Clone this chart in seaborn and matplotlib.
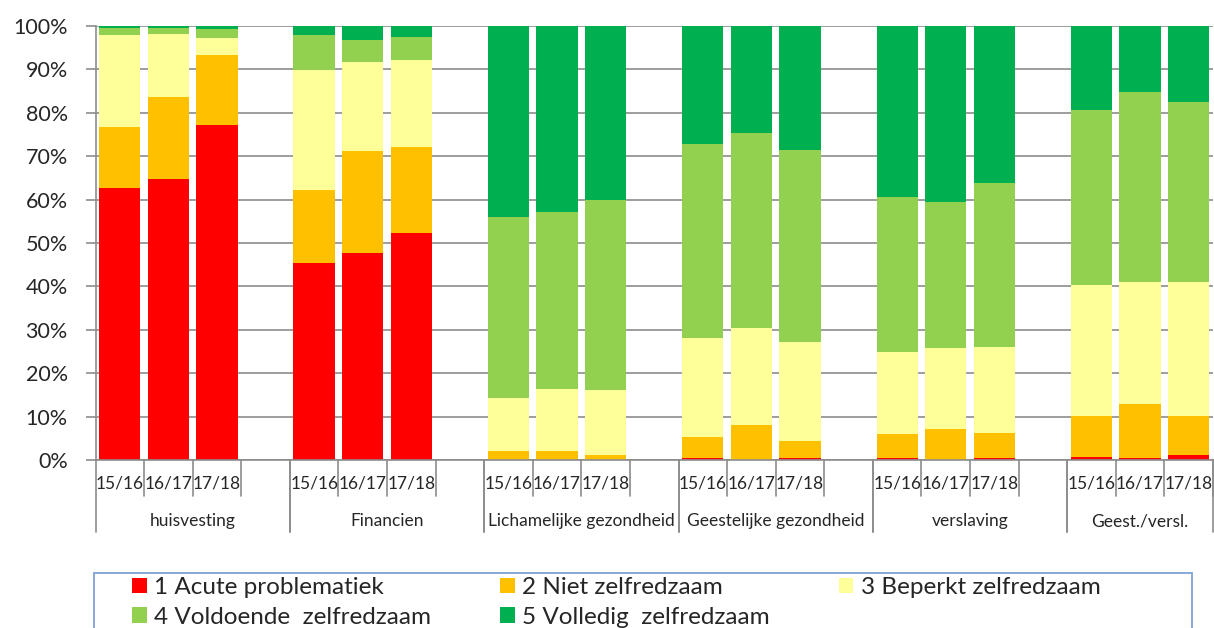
import numpy as np
import pandas as pd
import matplotlib
matplotlib.use("Agg")
import matplotlib.pyplot as plt
import seaborn as sns
from matplotlib.patches import Patch, Rectangle
from matplotlib.ticker import PercentFormatter

# -----------------------------
# DATA (percent of clients per level)
# -----------------------------
groups = ["huisvesting", "Financien", "Lichamelijke gezondheid",
          "Geestelijke gezondheid", "verslaving", "Geest./versl."]
years = ["15/16", "16/17", "17/18"]
levels = ["1 Acute problematiek", "2 Niet zelfredzaam", "3 Beperkt zelfredzaam",
          "4 Voldoende  zelfredzaam", "5 Volledig  zelfredzaam"]
colors = ["#FF0000", "#FFC000", "#FFFF99", "#92D050", "#00B050"]

acute = [62.7, 64.8, 77.2, 45.3, 47.8, 52.2, 0.0, 0.0, 0.0,
         0.4, 0.1, 0.4, 0.4, 0.1, 0.4, 0.8, 0.5, 1.1]
niet = [14.0, 18.8, 16.1, 17.0, 23.4, 19.9, 2.0, 2.1, 1.2,
        4.8, 8.0, 4.0, 5.6, 7.1, 5.9, 9.4, 12.5, 9.1]
beperkt = [21.3, 14.6, 4.0, 27.5, 20.6, 20.0, 12.4, 14.3, 15.0,
           23.0, 22.3, 22.7, 19.0, 18.6, 19.8, 30.2, 28.1, 30.9]
voldoende = [1.6, 1.3, 2.0, 8.2, 5.0, 5.3, 41.7, 40.7, 43.6,
             44.7, 44.9, 44.3, 35.5, 33.7, 37.7, 40.3, 43.6, 41.4]
volledig = [0.4, 0.5, 0.7, 2.0, 3.2, 2.6, 43.9, 42.9, 40.2,
            27.1, 24.7, 28.6, 39.5, 40.5, 36.2, 19.3, 15.3, 17.5]

# -----------------------------
# BUILD TABLE
# -----------------------------
rows = []
for gi, g in enumerate(groups):
    for yi, y in enumerate(years):
        rows.append({"group": g, "year": y, "slot": gi * 4 + yi})
df = pd.DataFrame(rows)
series = [acute, niet, beperkt, voldoende, volledig]
for name, vals in zip(levels, series):
    df[name] = vals
cum = df[levels].cumsum(axis=1)

# -----------------------------
# STYLE
# -----------------------------
sns.set_theme(style="white")
plt.rcParams["font.family"] = ["Lato", "DejaVu Sans"]
grey = "#8C8C8C"

fig = plt.figure(figsize=(12.14, 6.28), dpi=100)
ax = fig.add_axes([95.5 / 1214, 1 - 460 / 628, (1213 - 95.5) / 1214, 434 / 628])

# stacked bars: draw cumulative totals from top level down
for i in range(len(levels) - 1, -1, -1):
    sns.barplot(x=df["slot"], y=cum[levels[i]], color=colors[i], width=0.85,
                native_scale=True, saturation=1, linewidth=0, ax=ax, zorder=2)

ax.set_xlim(-0.5, 22.5)
ax.set_ylim(0, 100)
ax.set_yticks(np.arange(0, 101, 10))
ax.yaxis.set_major_formatter(PercentFormatter(decimals=0))
ax.set_axisbelow(True)
ax.yaxis.grid(True, color=grey, lw=1.2)
ax.tick_params(axis="y", length=7, width=1.2, color=grey, pad=13, labelsize=15.5,
               left=True)
ax.set_xticks([])
ax.set_xlabel("")
ax.set_ylabel("")
for s in ["top", "right"]:
    ax.spines[s].set_visible(False)
for s in ["left", "bottom"]:
    ax.spines[s].set_color(grey)
    ax.spines[s].set_linewidth(1.2)

# -----------------------------
# TWO-LEVEL CATEGORY AXIS
# -----------------------------
trans = ax.get_xaxis_transform()
for gi, g in enumerate(groups):
    start = gi * 4
    for yi, y in enumerate(years):
        ax.text(start + yi, -0.055, y, transform=trans, ha="center", va="center",
                fontsize=12.5)
        ax.plot([start + yi + 0.5] * 2, [0, -0.083], transform=trans,
                color=grey, lw=1.2, clip_on=False)
    end = start + 2.5 if gi == len(groups) - 1 else start + 3.5
    ax.plot([start - 0.5] * 2, [0, -0.166], transform=trans,
            color=grey, lw=1.2, clip_on=False)
    ax.plot([end] * 2, [0, -0.166], transform=trans,
            color=grey, lw=1.2, clip_on=False)
    ax.text((start - 0.5 + end) / 2, -0.1406, g, transform=trans,
            ha="center", va="center", fontsize=12.5)

# -----------------------------
# LEGEND
# -----------------------------
handles = [Patch(facecolor=c, edgecolor="none") for c in colors]
order = [0, 3, 1, 4, 2]
fig.legend([handles[i] for i in order], [levels[i] for i in order],
           ncol=3, loc="upper left", frameon=False, fontsize=17.5,
           bbox_to_anchor=(132 / 1214, 1 - 577 / 628),
           borderaxespad=0, borderpad=0, handlelength=0.6, handleheight=0.6,
           handletextpad=0.3, columnspacing=2.85, labelspacing=0.35)
fig.patches.append(Rectangle((94 / 1214, -0.2), (1192 - 94) / 1214, 0.2 + 55 / 628,
                             transform=fig.transFigure, fill=False,
                             edgecolor="#7EA3D6", lw=1.3))

plt.savefig("out.png", dpi=100)
